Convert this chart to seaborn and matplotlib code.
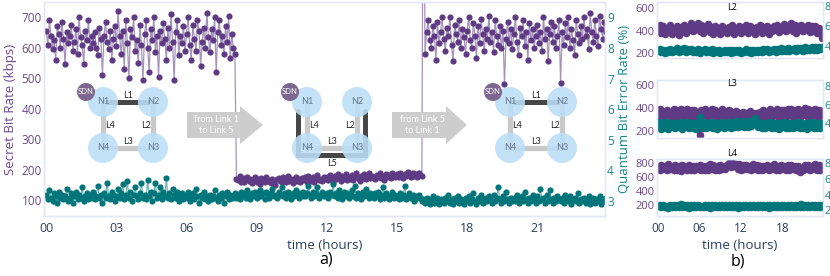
import numpy as np
import pandas as pd
import matplotlib.pyplot as plt
import matplotlib.dates as mdates
import matplotlib.patches as mpatches
import seaborn as sns

sns.set_theme(style="white")
plt.rcParams['font.family'] = ['Open Sans', 'DejaVu Sans']

PURPLE = '#5e3b84'
TEAL = '#00767b'
PURPLE_TXT = '#6b4a8e'
TEAL_TXT = '#17868b'
AXIS_TXT = '#2a3f5f'
FRAME = '#e3e8f2'

# ---- a) secret bit rate (kbps), one sample every 4 min (one row = one hour)
skr_main = [
    655, 610, 690, 640, 595, 625, 560, 670, 645, 600, 685, 630, 545, 650, 615,
    640, 675, 590, 620, 660, 580, 700, 635, 610, 545, 655, 625, 690, 600, 640,
    615, 650, 600, 575, 665, 630, 510, 640, 685, 620, 595, 655, 560, 630, 670,
    605, 720, 640, 580, 655, 530, 690, 615, 500, 660, 635, 700, 590, 625, 550,
    675, 610, 495, 645, 690, 600, 520, 660, 625, 700, 585, 640, 505, 655, 615,
    680, 630, 560, 665, 600, 710, 620, 495, 650, 690, 575, 640, 615, 670, 590,
    645, 700, 610, 560, 675, 630, 590, 690, 655, 540, 620, 665, 600, 715, 635,
    585, 660, 625, 700, 520, 650, 690, 610, 640, 580, 670, 620, 705, 565, 645,
    600, 580, 170, 165, 178, 160, 172, 158, 168, 176, 162, 170, 155, 167, 174,
    160, 168, 152, 171, 163, 158, 175, 161, 166, 155, 170, 164, 150, 168, 172,
    162, 158, 174, 166, 160, 178, 164, 170, 156, 168, 175, 161, 169, 158, 172,
    166, 174, 160, 180, 168, 163, 176, 158, 171, 182, 165, 170, 161, 177, 168,
    174, 166, 182, 170, 160, 178, 168, 186, 172, 164, 179, 170, 184, 167, 175,
    170, 181, 165, 176, 188, 171, 162, 178, 173, 185, 168, 177, 190, 172, 180,
    175, 168, 183, 177, 190, 172, 180, 166, 186, 176, 182, 171, 188, 179, 174,
    184, 176, 190, 180, 172, 186, 178, 192, 181, 175, 188, 179, 185, 174, 190,
    182, 178, 1600, 580, 650, 690, 625, 600, 670, 640, 560, 685, 615, 650, 700,
    630, 590, 665, 640, 700, 610, 555, 675, 645, 620, 690, 600, 660, 635, 580,
    655, 700, 625, 600, 680, 640, 565, 670, 615, 695, 645, 590, 660, 630, 705,
    620, 650, 585, 690, 640, 610, 670, 600, 655, 480, 630, 685, 615, 660, 595,
    645, 700, 620, 575, 665, 640, 690, 605, 650, 560, 680, 625, 660, 600, 640,
    675, 615, 650, 590, 700, 630, 660, 555, 645, 685, 620, 670, 600, 640, 690,
    485, 650, 610, 680, 635, 700, 600, 660, 625, 575, 690, 645, 615, 670, 630,
    700, 640, 660, 595, 715, 650, 620, 690, 640, 605, 705, 660, 630, 685, 650,
]
# ---- a) quantum bit error rate (%)
qber_main = [
    3.2, 3.05, 3.35, 3.1, 3.0, 3.25, 3.15, 2.95, 3.3, 3.1, 3.2, 3.05, 3.15, 3.4, 3.0,
    3.1, 3.25, 2.95, 3.15, 3.3, 3.05, 3.2, 3.1, 3.45, 3.0, 3.15, 3.25, 3.05, 3.2, 3.1,
    3.3, 3.05, 3.15, 3.5, 3.1, 3.2, 2.95, 3.25, 3.1, 3.6, 3.15, 3.05, 3.3, 3.2, 3.0,
    3.15, 3.4, 3.1, 3.25, 3.55, 3.05, 3.2, 3.65, 3.1, 3.3, 3.0, 3.2, 3.45, 3.15, 3.05,
    3.25, 3.6, 3.1, 3.2, 3.05, 3.7, 3.15, 3.3, 3.0, 3.25, 3.6, 3.1, 3.2, 3.45, 3.05,
    3.3, 3.15, 3.75, 3.1, 3.25, 3.05, 3.4, 3.2, 3.1, 3.3, 3.0, 3.15, 3.25, 3.05, 3.2,
    3.1, 3.3, 3.0, 3.15, 3.25, 3.05, 3.4, 3.15, 2.95, 3.2, 3.1, 3.3, 3.05, 3.15, 3.0,
    3.2, 3.05, 3.15, 3.35, 3.1, 3.0, 3.2, 3.1, 3.25, 2.95, 3.15, 3.3, 3.05, 3.2, 3.1,
    3.15, 3.25, 3.1, 3.2, 3.05, 3.3, 3.15, 3.25, 3.1, 3.35, 3.2, 3.05, 3.25, 3.15, 3.3,
    3.1, 3.2, 3.35, 3.15, 3.25, 3.05, 3.3, 3.2, 3.1, 3.25, 3.4, 3.15, 3.2, 3.1, 3.3,
    3.2, 3.45, 3.15, 3.25, 3.1, 3.3, 3.2, 3.05, 3.25, 3.15, 3.35, 3.2, 3.1, 3.25, 3.15,
    3.3, 3.15, 3.25, 3.5, 3.2, 3.1, 3.3, 3.15, 3.25, 3.45, 3.1, 3.2, 3.3, 3.15, 3.2,
    3.25, 3.1, 3.3, 3.2, 3.55, 3.15, 3.25, 3.1, 3.35, 3.2, 3.05, 3.3, 3.15, 3.25, 3.1,
    3.2, 3.35, 3.15, 3.5, 3.1, 3.25, 3.2, 3.05, 3.3, 3.15, 3.4, 3.2, 3.1, 3.25, 3.15,
    3.1, 3.25, 3.15, 3.3, 3.05, 3.2, 3.45, 3.1, 3.25, 3.15, 3.05, 3.2, 3.3, 3.1, 3.2,
    3.15, 3.05, 3.25, 3.1, 3.2, 3.5, 3.05, 3.15, 3.25, 3.1, 3.2, 3.0, 3.15, 3.1, 3.2,
    3.1, 3.0, 3.05, 2.95, 3.1, 3.0, 2.9, 3.05, 3.15, 2.95, 3.0, 3.1, 2.9, 3.05, 3.0,
    2.95, 3.1, 3.0, 3.2, 2.95, 3.05, 2.9, 3.1, 3.0, 3.15, 2.95, 3.05, 3.0, 2.9, 3.1,
    3.0, 3.15, 2.95, 3.05, 3.25, 3.0, 2.9, 3.1, 3.0, 3.2, 2.95, 3.05, 3.1, 3.0, 3.15,
    3.05, 2.95, 3.2, 3.0, 3.1, 3.45, 3.05, 2.95, 3.15, 3.0, 3.3, 3.05, 2.95, 3.1, 3.0,
    3.1, 3.0, 3.2, 2.95, 3.05, 3.15, 3.0, 3.3, 3.05, 2.95, 3.1, 3.0, 3.2, 3.05, 2.95,
    3.15, 3.0, 3.4, 3.05, 3.1, 2.95, 3.2, 3.0, 3.35, 3.05, 2.95, 3.1, 3.0, 3.15, 3.05,
    3.0, 3.1, 2.95, 3.2, 3.05, 3.0, 3.15, 2.9, 3.05, 3.1, 3.0, 3.25, 2.95, 3.05, 3.0,
    3.1, 2.95, 3.05, 3.15, 2.9, 3.0, 3.1, 2.95, 3.05, 3.0, 3.15, 2.9, 3.05, 3.0, 3.1,
]

# ---- b) per-link traces, one sample every 15 min
skr_l2 = [
    410, 455, 385, 440, 370, 425, 395, 450, 375, 420, 400, 445, 365, 430, 390, 455, 380, 435, 410, 465,
    395, 445, 420, 470, 400, 455, 385, 440, 415, 460, 390, 430, 375, 445, 400, 425, 370, 440, 395, 420,
    380, 435, 405, 450, 375, 425, 395, 445, 385, 430, 410, 455, 380, 440, 395, 425, 370, 435, 405, 450,
    385, 430, 400, 445, 375, 420, 395, 440, 410, 455, 390, 435, 405, 460, 395, 445, 415, 470, 400, 450,
    385, 440, 410, 455, 395, 435, 405, 450, 390, 440, 400, 445, 380, 425, 395, 335,
]
qber_l2 = [
    3.45, 3.7, 3.35, 3.6, 3.3, 3.55, 3.4, 3.65, 3.35, 3.6, 3.5, 3.75, 3.4, 3.65, 3.45, 3.8, 3.4, 3.7, 3.45, 3.65,
    3.35, 3.6, 3.4, 3.7, 3.3, 3.55, 3.45, 3.7, 3.35, 3.6, 3.4, 3.65, 3.3, 3.55, 3.35, 3.6, 3.3, 3.5, 3.4, 3.6,
    3.35, 3.55, 3.3, 3.6, 3.4, 3.55, 3.35, 3.6, 3.3, 3.5, 3.4, 3.65, 3.35, 3.6, 3.3, 3.55, 3.4, 3.6, 3.35, 3.55,
    3.4, 3.65, 3.45, 3.7, 3.4, 3.6, 3.45, 3.7, 3.4, 3.65, 3.5, 3.75, 3.45, 3.7, 3.5, 3.75, 3.45, 3.7, 3.55, 3.8,
    3.5, 3.75, 3.55, 3.8, 3.5, 3.85, 3.55, 3.8, 3.6, 3.85, 3.55, 3.9, 3.6, 3.85, 3.65, 3.9,
]
skr_l3 = [
    350, 395, 310, 375, 325, 385, 300, 370, 340, 390, 315, 380, 330, 395, 305, 375, 345, 390, 320, 380,
    335, 385, 310, 370, 165, 380, 325, 390, 315, 375, 340, 395, 320, 380, 305, 370, 335, 390, 315, 375,
    330, 385, 310, 365, 320, 375, 300, 360, 315, 370, 305, 360, 320, 375, 300, 355, 270, 360, 315, 370,
    325, 380, 310, 370, 335, 390, 320, 375, 340, 395, 315, 380, 330, 385, 320, 390, 340, 395, 325, 380,
    335, 395, 320, 385, 345, 400, 330, 390, 320, 380, 340, 395, 325, 385, 335, 375,
]
qber_l3 = [
    3.75, 4.2, 3.45, 4.0, 3.55, 4.15, 3.4, 3.95, 3.6, 4.1, 3.5, 4.05, 3.65, 4.2, 3.45, 3.95, 3.6, 4.15, 3.5, 4.0,
    3.55, 4.1, 3.45, 4.0, 4.65, 4.05, 3.5, 4.15, 3.55, 3.95, 3.6, 4.2, 3.5, 4.05, 3.45, 4.0, 3.6, 4.15, 3.5, 4.0,
    3.65, 4.2, 3.55, 4.1, 3.6, 4.25, 3.65, 4.15, 3.7, 4.25, 3.6, 4.2, 3.65, 4.3, 3.7, 4.2, 4.6, 4.15, 3.6, 4.1,
    3.55, 4.05, 3.5, 4.0, 3.6, 4.15, 3.5, 4.05, 3.55, 4.1, 3.45, 4.0, 3.6, 4.15, 3.5, 4.05, 3.55, 4.1, 3.5, 4.0,
    3.6, 4.15, 3.5, 4.05, 3.55, 4.1, 3.45, 4.0, 3.6, 4.15, 3.5, 4.1, 3.55, 4.05, 3.5, 4.0,
]
skr_l4 = [
    750, 700, 780, 715, 770, 705, 785, 720, 765, 700, 775, 710, 760, 695, 780, 715, 765, 705, 775, 710,
    770, 700, 760, 715, 780, 705, 770, 710, 765, 700, 785, 720, 775, 710, 765, 705, 780, 715, 770, 720,
    775, 805, 745, 815, 760, 790, 720, 785, 710, 775, 725, 780, 715, 770, 705, 785, 720, 775, 710, 765,
    700, 770, 715, 780, 705, 770, 720, 785, 710, 770, 705, 775, 715, 765, 700, 775, 710, 780, 720, 770,
    705, 765, 670, 740, 710, 775, 715, 780, 705, 770, 720, 785, 710, 775, 705, 770,
]
qber_l4 = [
    2.5, 2.7, 2.4, 2.65, 2.4, 2.6, 2.35, 2.65, 2.45, 2.7, 2.4, 2.75, 2.4, 2.8, 2.4, 2.65, 2.4, 2.7, 2.35, 2.65,
    2.45, 2.7, 2.4, 2.65, 2.4, 2.6, 2.4, 2.65, 2.4, 2.7, 2.35, 2.65, 2.45, 2.7, 2.4, 2.65, 2.4, 2.75, 2.4, 2.65,
    2.4, 2.7, 2.4, 2.65, 2.45, 2.7, 2.35, 2.65, 2.4, 2.7, 2.4, 2.65, 2.4, 2.7, 2.4, 2.65, 2.45, 2.7, 2.4, 2.65,
    2.4, 2.7, 2.4, 2.65, 2.35, 2.7, 2.4, 2.65, 2.4, 2.65, 2.45, 2.7, 2.4, 2.65, 2.4, 2.7, 2.4, 2.65, 2.4, 2.7,
    2.4, 2.65, 2.4, 2.8, 2.4, 2.7, 2.4, 2.65, 2.4, 2.7, 2.4, 2.65, 2.4, 2.7, 2.4, 2.65,
]

day = pd.Timestamp('2021-01-01 00:00')
t_main = pd.date_range(day, periods=len(skr_main), freq='4min')
t_link = pd.date_range(day, periods=len(skr_l2), freq='15min')

W, H = 830, 276
fig = plt.figure(figsize=(W / 100, H / 100), dpi=100)


def box(l, t, r, b):
    # axes rect from pixel edges
    return [l / W, 1 - b / H, (r - l) / W, (b - t) / H]


def frame(a):
    for sp in a.spines.values():
        sp.set_color(FRAME)
        sp.set_linewidth(1)


def trace(a, t, y, color, size, lw, alpha):
    sns.lineplot(x=t, y=y, ax=a, color=color, linewidth=lw, alpha=alpha)
    sns.scatterplot(x=t, y=y, ax=a, color=color, s=size, linewidth=0)
    a.set_xlabel('')
    a.set_ylabel('')


# ---------------- a) main panel
ax = fig.add_axes(box(44, 2, 605, 216))
trace(ax, t_main, skr_main, PURPLE, 20, 0.9, 0.55)
ax2 = ax.twinx()
trace(ax2, t_main, qber_main, TEAL, 20, 0.9, 0.55)

ax.set_xlim(day - pd.Timedelta(minutes=6), day + pd.Timedelta(minutes=23 * 60 + 54))
ax.set_ylim(47.5, 750)
ax2.set_ylim(2.51, 9.5)
ax.set_yticks(range(100, 800, 100))
ax2.set_yticks(range(3, 10))
ax.xaxis.set_major_locator(mdates.HourLocator(byhour=range(0, 24, 3)))
ax.xaxis.set_major_formatter(mdates.DateFormatter('%H'))
ax.tick_params(axis='x', length=0, pad=4, labelsize=9, labelcolor=AXIS_TXT)
ax.tick_params(axis='y', length=0, pad=1.5, labelsize=8.5, labelcolor=PURPLE_TXT)
ax2.tick_params(axis='y', length=0, pad=1.5, labelsize=8.5, labelcolor=TEAL_TXT)
ax.set_ylabel('Secret Bit Rate (kbps)', color=PURPLE_TXT, fontsize=9.5, labelpad=3)
ax2.set_ylabel('Quantum Bit Error Rate (%)', color=TEAL_TXT, fontsize=9.5, labelpad=3)
ax.set_xlabel('time (hours)', color=AXIS_TXT, fontsize=9.5, labelpad=3)
frame(ax)
frame(ax2)

# ---------------- b) per-link panels
links = [
    ('L2', skr_l2, qber_l2, (2, 58.5), 7, (155, 655), (2.7, 8.4), [200, 400, 600], [4, 6, 8]),
    ('L3', skr_l3, qber_l3, (80, 137.5), 84, (145, 645), (2.5, 8.65), [200, 400, 600], [4, 6, 8]),
    ('L4', skr_l4, qber_l4, (158.5, 216), 154, (44, 871), (1.28, 8.63), [200, 400, 600, 800], [2, 4, 6, 8]),
]
for i, (name, skr, qber, (top, bot), name_y, ylim_l, ylim_r, lt, rt) in enumerate(links):
    bx = fig.add_axes(box(657, top, 823, bot))
    trace(bx, t_link, skr, PURPLE, 30, 3.0, 1.0)
    bx2 = bx.twinx()
    trace(bx2, t_link, qber, TEAL, 30, 3.0, 1.0)
    bx.set_xlim(day - pd.Timedelta(minutes=9), day + pd.Timedelta(minutes=23 * 60 + 52))
    bx.set_ylim(*ylim_l)
    bx2.set_ylim(*ylim_r)
    bx.set_yticks(lt)
    bx2.set_yticks(rt)
    bx.xaxis.set_major_locator(mdates.HourLocator(byhour=range(0, 24, 6)))
    bx.xaxis.set_major_formatter(mdates.DateFormatter('%H'))
    bx.tick_params(axis='x', length=0, pad=4, labelsize=8.5, labelcolor=AXIS_TXT,
                   labelbottom=(i == 2))
    bx.tick_params(axis='y', length=0, pad=1.5, labelsize=8, labelcolor=PURPLE_TXT)
    bx2.tick_params(axis='y', length=0, pad=1, labelsize=8, labelcolor=TEAL_TXT)
    fig.text(732 / W, 1 - name_y / H, name, ha='center', va='center',
             fontsize=6.5, color='black', zorder=10)
    frame(bx)
    frame(bx2)
    if i == 2:
        bx.set_xlabel('time (hours)', color=AXIS_TXT, fontsize=9.5, labelpad=3)

fig.text(326 / W, 1 - 260 / H, 'a)', ha='center', va='center', fontsize=11.5, color='black')
fig.text(738 / W, 1 - 261 / H, 'b)', ha='center', va='center', fontsize=11.5, color='black')

# ---------------- network sketches drawn over panel a)
deco = fig.add_axes([0, 0, 1, 1])
deco.set_xlim(0, W)
deco.set_ylim(H, 0)
deco.axis('off')
deco.patch.set_alpha(0)

NODE = '#bcdff7'
LIGHT = '#c9c9c9'
DARK = '#474747'
NODE_TXT = '#66778a'
SDN = '#7d668f'


def network(x1, x2, y1, y2, dark_l1, l5):
    if l5:
        deco.plot([x1 - 9, x1 - 9, x2 + 8, x2 + 8], [y1 + 9, y2 + 7, y2 + 7, y1 + 9],
                  color=DARK, lw=3.6, solid_joinstyle='miter', zorder=1)
    if dark_l1:
        deco.plot([x1, x2], [y1, y1], color=DARK, lw=3.6, zorder=1)
    deco.plot([x1, x1], [y1, y2], color=LIGHT, lw=3.8, zorder=1)
    deco.plot([x2, x2], [y1, y2], color=LIGHT, lw=3.8, zorder=1)
    deco.plot([x1, x2], [y2, y2], color=LIGHT, lw=3.8, zorder=1)
    for (cx, cy, lab) in [(x1, y1, 'N1'), (x2, y1, 'N2'), (x1, y2, 'N4'), (x2, y2, 'N3')]:
        deco.add_patch(mpatches.Circle((cx, cy), 15, color=NODE, alpha=0.88, lw=0, zorder=2))
        deco.text(cx, cy, lab, ha='center', va='center', fontsize=6.5, color=NODE_TXT,
                  family='Lato', zorder=3)
    deco.add_patch(mpatches.Circle((x1 - 17, y1 - 10), 9, color=SDN, lw=0, zorder=4))
    deco.text(x1 - 17, y1 - 10, 'SDN', ha='center', va='center', fontsize=5.5,
              color='white', family='Lato', zorder=5)
    mx = (x1 + x2) / 2
    if dark_l1:
        deco.text(mx, y1 - 7, 'L1', ha='center', va='center', fontsize=6.5, family='Lato', zorder=3)
    deco.text(x1 + 7, (y1 + y2) / 2, 'L4', ha='center', va='center', fontsize=6.5, family='Lato', zorder=3)
    deco.text(x2 - 7, (y1 + y2) / 2, 'L2', ha='center', va='center', fontsize=6.5, family='Lato', zorder=3)
    deco.text(mx, y2 - 7, 'L3', ha='center', va='center', fontsize=6.5, family='Lato', zorder=3)
    if l5:
        deco.text(mx, y2 + 15, 'L5', ha='center', va='center', fontsize=6.5, family='Lato', zorder=3)


def arrow(x0, xh, x1, yc, text):
    pts = [(x0, yc - 13), (xh, yc - 13), (xh, yc - 19), (x1, yc),
           (xh, yc + 19), (xh, yc + 13), (x0, yc + 13)]
    deco.add_patch(mpatches.Polygon(pts, closed=True, color='#cdcdcd', lw=0, zorder=2))
    deco.text((x0 + xh) / 2 + 3, yc, text, ha='center', va='center', fontsize=6.5,
              color='white', family='Lato', linespacing=1.25, zorder=3)


network(103, 153, 102, 148, True, False)
network(307, 357, 102, 148, False, True)
network(510, 562, 102, 148, True, False)
arrow(187, 240, 263, 125, 'from Link 1\nto Link 5')
arrow(392, 446, 467, 125, 'from Link 5\nto Link 1')

fig.savefig('out.png', dpi=100)
